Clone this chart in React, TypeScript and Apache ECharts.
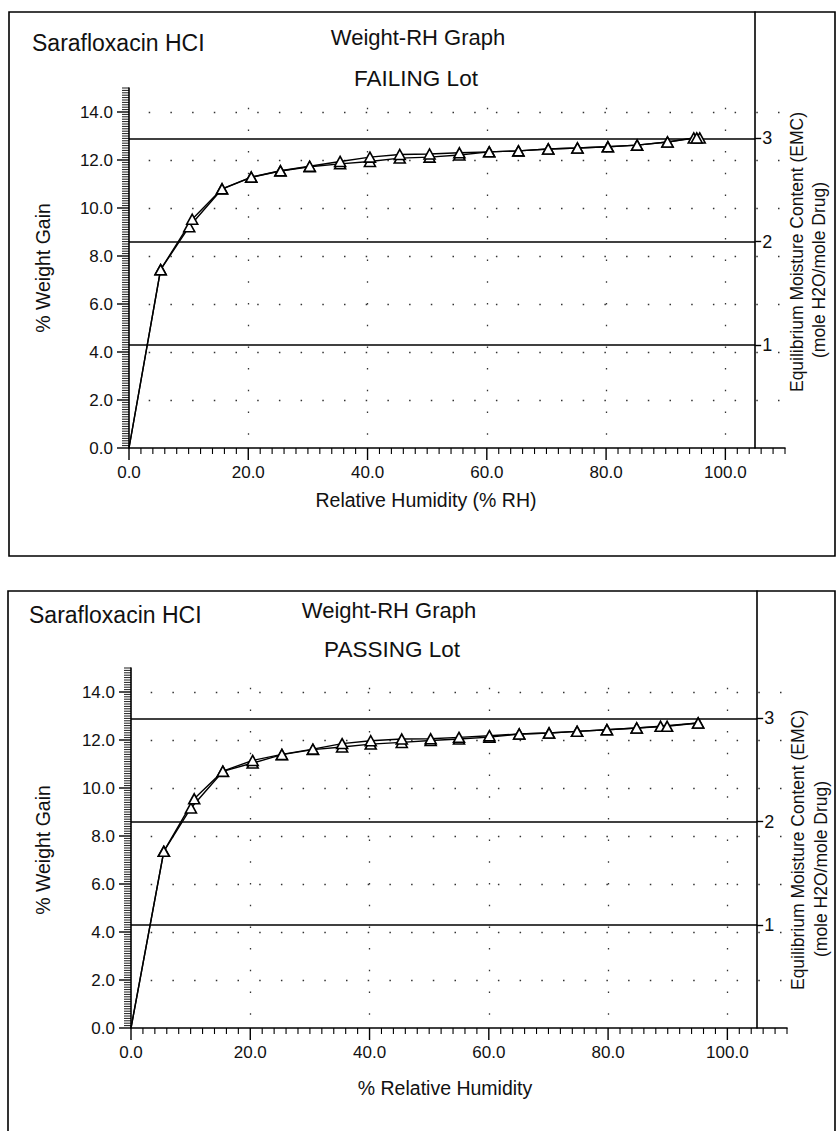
import React, { useEffect, useRef } from 'react';
import * as echarts from 'echarts';

const FONT = "'Liberation Sans', Arial, Helvetica, sans-serif";

// ---------- data ----------
const xLabelValues = [0, 20, 40, 60, 80, 100];
const yLabelValues = [0, 2, 4, 6, 8, 10, 12, 14];
const emcLevels = [1, 2, 3];
const weightPerMole = 4.3; // % weight gain per mole H2O / mole drug

// FAILING lot
const rhFailSorp = [0, 5.3, 10.1, 15.6, 20.5, 25.4, 30.3, 35.4, 40.4, 45.4, 50.4, 55.4, 60.4, 65.3, 70.3, 75.2, 80.3, 85.2, 90.3, 94.7];
const wgFailSorp = [0, 7.43, 9.22, 10.79, 11.28, 11.54, 11.72, 11.84, 11.94, 12.08, 12.12, 12.21, 12.34, 12.38, 12.46, 12.5, 12.55, 12.62, 12.75, 12.92];
const rhFailDes = [95.7, 95.2, 90.3, 85.2, 80.3, 75.2, 70.3, 65.3, 60.4, 55.4, 50.4, 45.4, 40.4, 35.4, 30.3, 25.4, 20.5, 15.6, 10.6, 5.3, 0];
const wgFailDes = [12.92, 12.92, 12.75, 12.62, 12.55, 12.5, 12.46, 12.38, 12.34, 12.3, 12.25, 12.23, 12.12, 11.94, 11.74, 11.55, 11.29, 10.8, 9.53, 7.43, 0];

// PASSING lot
const rhPassSorp = [0, 5.5, 10.05, 15.4, 20.4, 25.3, 30.5, 35.4, 40.2, 45.4, 50.25, 55.0, 60.1, 65.1, 70.1, 74.8, 79.8, 84.8, 88.8, 95.1];
const wgPassSorp = [0, 7.36, 9.17, 10.69, 11.04, 11.39, 11.6, 11.71, 11.83, 11.9, 11.98, 12.04, 12.12, 12.25, 12.29, 12.36, 12.43, 12.5, 12.57, 12.71];
const rhPassDes = [95.1, 89.9, 84.8, 79.8, 74.8, 70.1, 65.1, 60.1, 55.0, 50.25, 45.4, 40.2, 35.4, 30.5, 25.3, 20.4, 15.4, 10.6, 5.5, 0];
const wgPassDes = [12.71, 12.57, 12.5, 12.43, 12.36, 12.29, 12.25, 12.18, 12.11, 12.05, 12.04, 11.97, 11.85, 11.62, 11.4, 11.15, 10.7, 9.55, 7.36, 0];

const X_MAX = 110;
const Y_MAX = 15;
const EMC_AXIS_X = 105;
const X_MAJOR = 20;
const X_MINOR = 2;
const Y_MAJOR = 2;
const Y_MINOR = 0.1;

// axis ruler tick positions (axis decoration, not data)
const xTickValues: number[] = [];
for (let i = 0; i * X_MINOR <= X_MAX + 1e-9; i++) xTickValues.push(+(i * X_MINOR).toFixed(4));
const yTickValues: number[] = [];
for (let i = 0; i * Y_MINOR <= Y_MAX + 1e-9; i++) yTickValues.push(+(i * Y_MINOR).toFixed(4));

type PanelCfg = {
  left: number;
  top: number;
  width: number;
  height: number;
  frameTop: number;
  frameLeft: number;
  frameBottom: number;
  title1: { x: number; y: number };
  title2: { x: number; y: number };
  title3: { x: number; y: number };
  lotText: string;
  xName: string;
  xNamePos: { x: number; y: number };
  yNamePos: { x: number; y: number };
  rName1: { x: number; y: number };
  rName2: { x: number; y: number };
  series: { rh: number[]; wg: number[] }[];
};

const blk = '#000';
const txt = '#111';
const PER = 3; // axes per panel per direction

const isMajorX = (v: number) => Math.abs(v / X_MAJOR - Math.round(v / X_MAJOR)) < 1e-6 && v <= 100;
const isMajorY = (v: number) => Math.abs(v / Y_MAJOR - Math.round(v / Y_MAJOR)) < 1e-6 && v < Y_MAX;

function buildPanel(cfg: PanelCfg, p: number) {
  const gMain = p * 2;
  const gEmc = p * 2 + 1;
  const base = p * PER;
  const emcWidth = (cfg.width * EMC_AXIS_X) / X_MAX;
  const emcHeight = cfg.top + cfg.height - cfg.frameTop;
  const emcMax = ((emcHeight / cfg.height) * Y_MAX) / weightPerMole;

  const grids = [
    { left: cfg.left, top: cfg.top, width: cfg.width, height: cfg.height, containLabel: false },
    { left: cfg.left, top: cfg.frameTop, width: emcWidth, height: emcHeight, containLabel: false },
  ];

  const dotted = { type: [1.5, 20.2], dashOffset: 1.6, color: '#333', width: 1.3 };
  const lbl = { fontSize: 17, color: txt, fontFamily: FONT };
  const axLine = { show: true, onZero: false, lineStyle: { color: blk, width: 1.6 } };

  const xAxes = [
    {
      gridIndex: gMain, type: 'value', position: 'bottom', min: 0, max: X_MAX, interval: X_MAJOR,
      axisLine: axLine,
      axisTick: { show: false },
      axisLabel: {
        show: true,
        formatter: (v: number) => (xLabelValues.indexOf(v) >= 0 ? v.toFixed(1) : ''),
        margin: 16, ...lbl,
      },
      splitLine: { show: false },
    },
    {
      gridIndex: gMain, type: 'value', position: 'bottom', min: 0, max: X_MAX, interval: X_MAJOR,
      axisLine: { show: false, onZero: false }, axisLabel: { show: false }, axisTick: { show: false },
      splitLine: { show: true, showMinLine: false, showMaxLine: false, lineStyle: dotted },
    },
    { gridIndex: gEmc, type: 'value', min: 0, max: EMC_AXIS_X, show: false },
  ];

  const yAxes = [
    {
      gridIndex: gMain, type: 'value', position: 'left', min: 0, max: Y_MAX, interval: Y_MAJOR,
      axisLine: axLine,
      axisTick: { show: false },
      axisLabel: {
        show: true,
        formatter: (v: number) => (yLabelValues.indexOf(v) >= 0 ? v.toFixed(1) : ''),
        margin: 16, ...lbl,
      },
      splitLine: { show: false },
    },
    {
      gridIndex: gMain, type: 'value', position: 'left', min: 0, max: Y_MAX, interval: Y_MAJOR,
      axisLine: { show: false, onZero: false }, axisLabel: { show: false }, axisTick: { show: false },
      splitLine: { show: true, showMinLine: false, showMaxLine: false, lineStyle: dotted },
    },
    {
      gridIndex: gEmc, type: 'value', position: 'right', min: 0, max: emcMax,
      axisLine: axLine,
      axisTick: { show: true, length: 6, customValues: emcLevels, lineStyle: { color: blk, width: 1.4 } },
      axisLabel: { customValues: emcLevels, formatter: (v: number) => String(v), margin: 7, fontSize: 18, color: txt, fontFamily: FONT },
      splitLine: { show: false },
    },
  ];

  const tickSeries = (dir: 'x' | 'y') => ({
    type: 'custom', xAxisIndex: base, yAxisIndex: base, silent: true, clip: false, z: 4,
    data: dir === 'x' ? xTickValues.map((v) => [v, 0]) : yTickValues.map((v) => [0, v]),
    renderItem: (_params: any, api: any) => {
      const v = dir === 'x' ? api.value(0) : api.value(1);
      const pt = api.coord([api.value(0), api.value(1)]);
      if (dir === 'x') {
        const len = isMajorX(v) ? 12 : 6;
        return {
          type: 'line', shape: { x1: pt[0], y1: pt[1], x2: pt[0], y2: pt[1] + len },
          style: { stroke: blk, lineWidth: isMajorX(v) ? 1.4 : 1.1 },
        };
      }
      const len = isMajorY(v) ? 12 : 7;
      return {
        type: 'line', shape: { x1: pt[0] - len, y1: pt[1], x2: pt[0], y2: pt[1] },
        style: { stroke: blk, lineWidth: isMajorY(v) ? 1.4 : 0.9 },
      };
    },
  });

  const series: any[] = [
    {
      type: 'line', xAxisIndex: base + 2, yAxisIndex: base + 2, data: [], silent: true,
      markLine: {
        silent: true, symbol: ['none', 'none'], label: { show: false },
        lineStyle: { color: blk, type: 'solid', width: 1.5 },
        data: emcLevels.map((v) => ({ yAxis: v })),
      },
    },
    tickSeries('x'),
    tickSeries('y'),
    ...cfg.series.map((s) => ({
      type: 'line', xAxisIndex: base, yAxisIndex: base,
      data: s.rh.map((x, i) => (x === 0 ? { value: [x, s.wg[i]], symbol: 'none' } : [x, s.wg[i]])),
      symbol: 'triangle', symbolSize: [11, 10], showSymbol: true, clip: false, z: 5,
      itemStyle: { color: '#fff', borderColor: blk, borderWidth: 1.6 },
      lineStyle: { color: blk, width: 1.4 },
    })),
  ];

  const T = (text: string, x: number, y: number, size: number, align = 'center', rot = 0) => ({
    type: 'text', x, y, rotation: rot, silent: true,
    style: { text, fill: txt, fontSize: size, fontFamily: FONT, textAlign: align, textVerticalAlign: 'middle' },
  });

  const graphics = [
    {
      type: 'rect', silent: true,
      shape: { x: cfg.frameLeft, y: cfg.frameTop, width: 835 - cfg.frameLeft, height: cfg.frameBottom - cfg.frameTop },
      style: { fill: 'none', stroke: blk, lineWidth: 1.6 },
    },
    T('Sarafloxacin HCI', cfg.title1.x, cfg.title1.y, 23, 'left'),
    T('Weight-RH Graph', cfg.title2.x, cfg.title2.y, 22),
    T(cfg.lotText, cfg.title3.x, cfg.title3.y, 22.5),
    T('% Weight Gain', cfg.yNamePos.x, cfg.yNamePos.y, 19.5, 'center', Math.PI / 2),
    T(cfg.xName, cfg.xNamePos.x, cfg.xNamePos.y, 19.5),
    T('Equilibrium Moisture Content (EMC)', cfg.rName1.x, cfg.rName1.y, 17.5, 'center', Math.PI / 2),
    T('(mole H2O/mole Drug)', cfg.rName2.x, cfg.rName2.y, 17.5, 'center', Math.PI / 2),
  ];

  return { grids, xAxes, yAxes, series, graphics };
}

const topPanel: PanelCfg = {
  left: 129, top: 88, width: 656, height: 360,
  frameTop: 12, frameLeft: 9, frameBottom: 556,
  title1: { x: 32, y: 43 },
  title2: { x: 418, y: 37 },
  title3: { x: 416, y: 78 },
  lotText: 'FAILING Lot',
  xName: 'Relative Humidity (% RH)',
  xNamePos: { x: 426, y: 500 },
  yNamePos: { x: 43, y: 268 },
  rName1: { x: 797, y: 252 },
  rName2: { x: 819, y: 270 },
  series: [
    { rh: rhFailSorp, wg: wgFailSorp },
    { rh: rhFailDes, wg: wgFailDes },
  ],
};

const bottomPanel: PanelCfg = {
  left: 131, top: 668, width: 656, height: 360,
  frameTop: 591, frameLeft: 8, frameBottom: 1160,
  title1: { x: 29, y: 615 },
  title2: { x: 389, y: 610 },
  title3: { x: 392, y: 649 },
  lotText: 'PASSING Lot',
  xName: '% Relative Humidity',
  xNamePos: { x: 445, y: 1088 },
  yNamePos: { x: 43, y: 850 },
  rName1: { x: 798, y: 850 },
  rName2: { x: 821, y: 869 },
  series: [
    { rh: rhPassSorp, wg: wgPassSorp },
    { rh: rhPassDes, wg: wgPassDes },
  ],
};

export default function App() {
  const ref = useRef<HTMLDivElement>(null);
  useEffect(() => {
    if (!ref.current) return;
    const chart = echarts.init(ref.current, undefined, { renderer: 'svg' });
    const a = buildPanel(topPanel, 0);
    const b = buildPanel(bottomPanel, 1);
    chart.setOption({
      animation: false,
      backgroundColor: '#fff',
      textStyle: { fontFamily: FONT },
      grid: [...a.grids, ...b.grids],
      xAxis: [...a.xAxes, ...b.xAxes],
      yAxis: [...a.yAxes, ...b.yAxes],
      series: [...a.series, ...b.series],
      graphic: [...a.graphics, ...b.graphics],
    });
    return () => chart.dispose();
  }, []);
  return (
    <div
      ref={ref}
      style={{ position: 'absolute', left: 0, top: 0, width: 836, height: 1131, background: '#fff' }}
    />
  );
}
